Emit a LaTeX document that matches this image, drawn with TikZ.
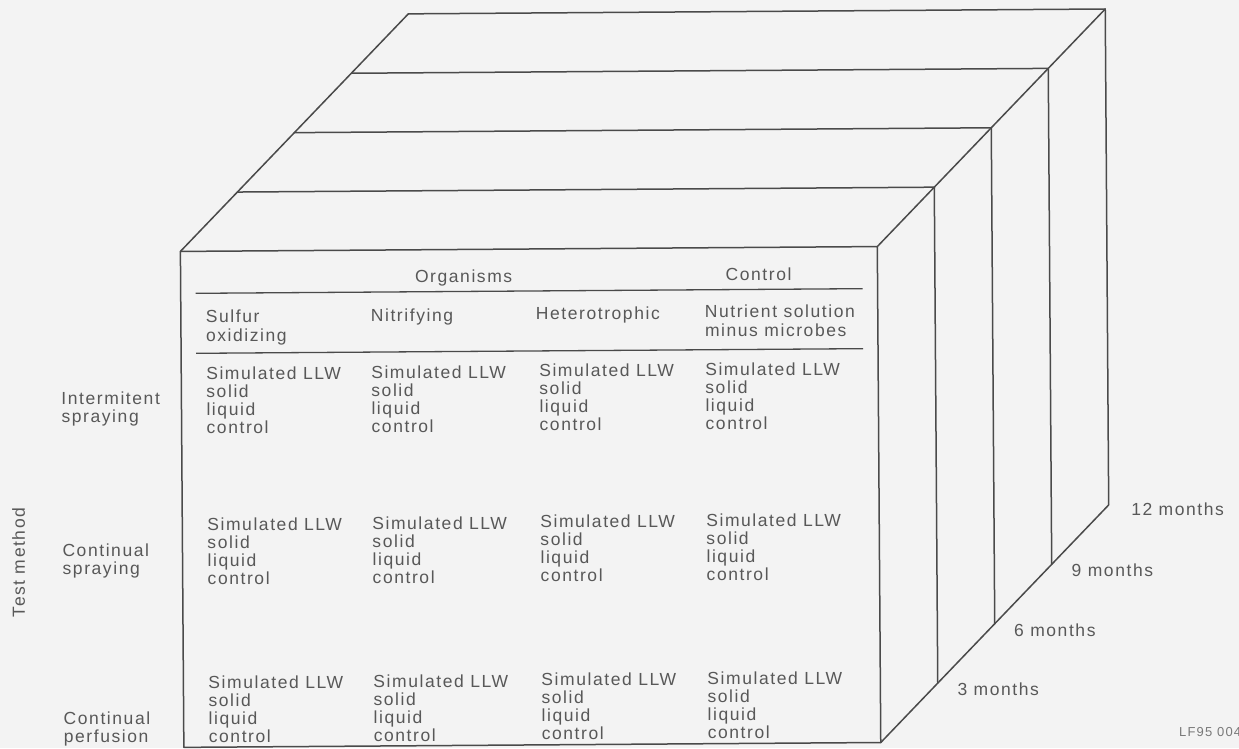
\documentclass[tikz,border=0pt]{standalone}
\usepackage{fontspec}
\setmainfont{Liberation Sans}[LetterSpace=9]
\definecolor{ink}{HTML}{4A4A4A}
\definecolor{txt}{HTML}{585858}
\definecolor{paper}{HTML}{F3F3F3}
\begin{document}
\begin{tikzpicture}[x=1pt,y=-1pt,
  edge/.style={draw=ink, line width=1.5pt, line join=round, line cap=round},
  rule/.style={draw=ink, line width=1.3pt},
  lbl/.style={anchor=base west, inner sep=0pt, outer sep=0pt, text=txt, font=\fontsize{17.5}{18}\selectfont},
  small/.style={anchor=base west, inner sep=0pt, text=txt!80, font=\fontsize{13}{14}\selectfont}]
\fill[paper] (0,0) rectangle (1239,748);
\useasboundingbox (0,0) rectangle (1239,748);
\begin{scope}[rotate around={0.4:(530,480)}]
  % front face
  \coordinate (F1) at (182,249);
  \coordinate (F2) at (879,249);
  \coordinate (F3) at (879,745);
  \coordinate (F4) at (182,745);
  % slabs behind
  \coordinate (L1) at (239.4,190);  \coordinate (R1) at (936.4,190);  \coordinate (B1) at (936.4,686);
  \coordinate (L2) at (296.8,131);  \coordinate (R2) at (993.8,131);  \coordinate (B2) at (993.8,627);
  \coordinate (L3) at (354.2,72);   \coordinate (R3) at (1051.2,72);  \coordinate (B3) at (1051.2,568);
  \coordinate (L4) at (411.6,13);   \coordinate (R4) at (1108.6,13);  \coordinate (B4) at (1108.6,509);
  \draw[edge] (F1) -- (F2) -- (F3) -- (F4) -- cycle;
  \draw[edge] (F1) -- (L4);
  \draw[edge] (F2) -- (R4);
  \draw[edge] (F3) -- (B4);
  \foreach \k in {1,...,4} { \draw[edge] (L\k) -- (R\k) -- (B\k); }
  % inner rules
  \coordinate (r1a) at (197,291); \coordinate (r1b) at (864,291);
  \coordinate (r2a) at (197,351); \coordinate (r2b) at (864,351);
  \draw[rule] (r1a) -- (r1b);
  \draw[rule] (r2a) -- (r2b);
  % headers
  \node[lbl, anchor=base] (org) at (465,282) {Organisms};
  \node[lbl, anchor=base] (ctl) at (760,282) {Control};
  \node[lbl] (h1a) at (207,320) {Sulfur};
  \node[lbl] (h1b) at (207,339) {oxidizing};
  \node[lbl] (h2) at (372,320) {Nitrifying};
  \node[lbl] (h3) at (537,320) {Heterotrophic};
  \node[lbl] (h4a) at (706,319) {Nutrient solution};
  \node[lbl] (h4b) at (706,338) {minus microbes};
  % cells
  \foreach \cx [count=\i] in {207,372,540,706} {
    \foreach \ry [count=\j] in {377,528,686} {
      \node[lbl] (c\i r\j a) at (\cx,\ry) {Simulated LLW};
      \node[lbl] (c\i r\j b) at (\cx,\ry+18) {solid};
      \node[lbl] (c\i r\j c) at (\cx,\ry+36) {liquid};
      \node[lbl] (c\i r\j d) at (\cx,\ry+54) {control};
    }
  }
  % row labels
  \node[lbl] (t1a) at (62,401) {Intermitent};
  \node[lbl] (t1b) at (62,419) {spraying};
  \node[lbl] (t2a) at (62,553) {Continual};
  \node[lbl] (t2b) at (62,571) {spraying};
  \node[lbl] (t3a) at (62,721) {Continual};
  \node[lbl] (t3b) at (62,739) {perfusion};
  \node[lbl, anchor=center, rotate=90] (tm) at (18,559) {Test method};
  % months
  \node[lbl] (m12) at (1131,520) {12 months};
  \node[lbl] (m9) at (1071,580) {9 months};
  \node[lbl] (m6) at (1013,640) {6 months};
  \node[lbl] (m3) at (956,698) {3 months};
\end{scope}
\node[small] (lf) at (1179,736) {LF95 004};
\end{tikzpicture}
\end{document}
